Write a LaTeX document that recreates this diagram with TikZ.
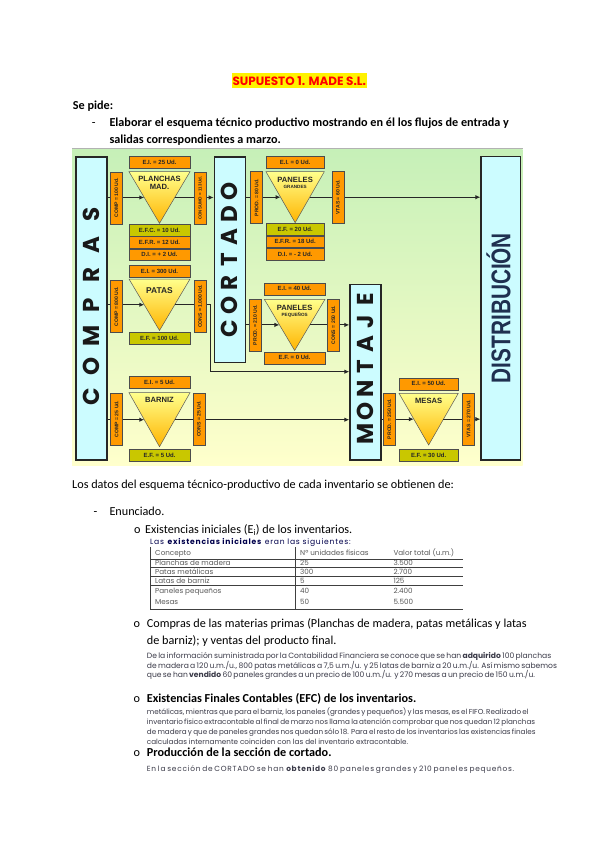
\documentclass[tikz,border=0pt]{standalone}
\usepackage{fontspec}
\setmainfont{Carlito}
\newfontfamily\gothic{Poppins}
\newfontfamily\gothicwide[LetterSpace=10]{Poppins}
\newfontfamily\diagfont{Liberation Sans}
\usetikzlibrary{arrows.meta, calc, positioning}

\definecolor{boxorange}{HTML}{FF9900}
\definecolor{boxolive}{HTML}{C9C700}
\definecolor{colcyan}{HTML}{CCFCFF}
\definecolor{bggreen}{HTML}{C6F0B8}
\definecolor{bgyellow}{HTML}{FFFFCC}
\definecolor{trilight}{HTML}{FFFF8C}
\definecolor{tridark}{HTML}{FFB400}
\definecolor{distnavy}{HTML}{1F3050}
\definecolor{smallgray}{HTML}{3A3A48}
\definecolor{titlered}{HTML}{FF0000}

% corner points of a stock triangle: name, left x, right x, top y, apex y
\newcommand{\stocktri}[5]{%
  \coordinate (#1-tl) at (#2,#4);
  \coordinate (#1-tr) at (#3,#4);
  \coordinate (#1-c) at ({(#2+#3)/2},#4);
  \coordinate (#1-ap) at ({(#2+#3)/2},#5);
  \coordinate (#1-in) at ($(#1-tl)!.5!(#1-ap)$);
  \coordinate (#1-out) at ($(#1-tr)!.5!(#1-ap)$);
}
\newcommand{\fitline}[2]{\makebox[#1][s]{#2}}

\begin{document}
\begin{tikzpicture}[x=1pt, y=-1pt,
    column/.style={draw=black!85, line width=1.3pt, fill=colcyan, inner sep=0pt},
    colletter/.style={font=\fontsize{23}{23}\gothic\bfseries, rotate=90, inner sep=0pt, text=black!90},
    stockbox/.style={draw=black!70, line width=0.5pt, fill=boxorange, minimum width=61, minimum height=11.8, inner sep=0pt, font=\fontsize{6}{6.5}\diagfont\bfseries, text=black!85},
    finbox/.style={stockbox, fill=boxolive},
    flowlab/.style={draw=black!70, line width=0.5pt, fill=boxorange, rotate=90, minimum width=52, minimum height=12, inner sep=0pt, font=\fontsize{5.1}{5.5}\diagfont\bfseries, text=black!85},
    trilab/.style={font=\fontsize{7.6}{8}\diagfont\bfseries, align=center, inner sep=0pt, text=black!85},
    tri/.style={top color=trilight, bottom color=tridark, draw=black!65, line width=0.5pt},
    flow/.style={-{Latex[length=5pt,width=4.5pt]}, line width=1.1pt, draw=black!85},
    body/.style={anchor=base west, inner sep=0pt, font=\fontsize{12.2}{14}\selectfont},
    bodybold/.style={body, font=\fontsize{12.2}{14}\selectfont\bfseries},
    smalltxt/.style={anchor=base west, inner sep=0pt, font=\fontsize{7.6}{8}\gothic, text=smallgray},
    tabtxt/.style={anchor=base west, inner sep=0pt, font=\fontsize{7.2}{8}\gothic, text=black!65},
    rule/.style={line width=0.9pt, draw=black!75}
]
\useasboundingbox (0,0) rectangle (599,848);
\fill[white] (0,0) rectangle (599,848);

% heading
\node[fill=yellow, text=titlered, font=\fontsize{12}{14}\gothic\bfseries, minimum height=15, inner xsep=0.5pt, inner ysep=0pt] (title) at (299.3,80.7) {SUPUESTO 1. MADE S.L.};
\node[bodybold] (sepide) at (72.7,110) {Se pide:};
\node[body] (dash1) at (91.7,126.7) {-};
\node[bodybold] (task1) at (109.3,126.7) {Elaborar el esquema técnico productivo mostrando en él los flujos de entrada y};
\node[bodybold] (task2) at (109.3,143.5) {salidas correspondientes a marzo.};

% ----- scheme -----
\shade[top color=bggreen, bottom color=bgyellow] (72,149) rectangle (522.5,465);
\draw[black!30, line width=0.8pt] (72,148.6) -- (522.5,148.6);

% sections
\node[column, minimum width=31, minimum height=303] (compras) at (91.5,308.5) {};
\node[column, minimum width=31, minimum height=205.7] (cortado) at (229.8,259.9) {};
\node[column, minimum width=31, minimum height=175.7] (montaje) at (365.5,372.2) {};
\node[column, minimum width=39.7, minimum height=303.3] (distrib) at (500.9,308.4) {};

\foreach \l [count=\i] in {C,O,M,P,R,A,S}
  \node[colletter] (compras-\i) at (91.5,{396.7-(\i-1)*30.3}) {\l};
\foreach \l [count=\i] in {C,O,R,T,A,D,O}
  \node[colletter] (cortado-\i) at (229.8,{328.3-(\i-1)*22.8}) {\l};
\foreach \l [count=\i] in {M,O,N,T,A,J,E}
  \node[colletter] (montaje-\i) at (365.5,{434-(\i-1)*22.5}) {\l};
\node[rotate=90, inner sep=0pt, text=distnavy] (distrib-name) at (498.6,308) {\resizebox{150pt}{24pt}{\diagfont\bfseries DISTRIBUCIÓN}};

% inventories
\stocktri{planchas}{129}{190}{171.7}{223.3}
\stocktri{patas}{129}{190}{279}{330.5}
\stocktri{barniz}{129}{190}{392.7}{446.7}
\stocktri{grandes}{266}{324.3}{171.7}{222.7}
\stocktri{pequenos}{264.3}{325}{299.3}{350.5}
\stocktri{mesas}{399}{458.3}{393.3}{445}
\foreach \t in {planchas,patas,barniz,grandes,pequenos,mesas}
  \shadedraw[tri] (\t-tl) -- (\t-tr) -- (\t-ap) -- cycle;

% flows
\coordinate (patas-turn) at (210.5,371.7);
\draw[flow] (compras.east |- planchas-in) -- (planchas-in);
\draw[flow] (planchas-out) -- (planchas-out -| cortado.west);
\draw[flow] (compras.east |- patas-in) -- (patas-in);
\draw[flow] (patas-out) -| (patas-turn) -- (patas-turn -| montaje.west);
\draw[flow] (compras.east |- barniz-in) -- (barniz-in);
\draw[flow] (barniz-out) -- (barniz-out -| montaje.west);
\draw[flow] (cortado.east |- grandes-in) -- (grandes-in);
\draw[flow] (grandes-out) -- (grandes-out -| distrib.west);
\draw[flow] (cortado.east |- pequenos-in) -- (pequenos-in);
\draw[flow] (pequenos-out) -- (pequenos-out -| montaje.west);
\draw[flow] (montaje.east |- mesas-in) -- (mesas-in);
\draw[flow] (mesas-out) -- (mesas-out -| distrib.west);

% names
\node[trilab, below=4pt of planchas-c] (planchas-name) {PLANCHAS\\MAD.};
\node[trilab, font=\fontsize{8.4}{8.4}\diagfont\bfseries, below=8.5pt of patas-c] (patas-name) {PATAS};
\node[trilab, below=4.4pt of barniz-c] (barniz-name) {BARNIZ};
\node[trilab, below=5pt of grandes-c] (grandes-name) {PANELES\\[-1.5pt]{\fontsize{4.6}{5}\selectfont GRANDES}};
\node[trilab, below=5.2pt of pequenos-c] (pequenos-name) {PANELES\\[-1.5pt]{\fontsize{4.6}{5}\selectfont PEQUEÑOS}};
\node[trilab, below=4.4pt of mesas-c] (mesas-name) {MESAS};

% stock boxes
\node[stockbox, above=3.4pt of planchas-c] (planchas-ei) {E.I. = 25 Ud.};
\node[finbox, below=0.7pt of planchas-ap] (planchas-efc) {E.F.C. = 10 Ud.};
\node[stockbox, below=0pt of planchas-efc] (planchas-efr) {E.F.R. = 12 Ud.};
\node[stockbox, below=0pt of planchas-efr] (planchas-di) {D.I. = + 2 Ud.};
\node[stockbox, above=1.7pt of patas-c] (patas-ei) {E.I. = 300 Ud.};
\node[finbox, below=1.8pt of patas-ap] (patas-ef) {E.F. = 100 Ud.};
\node[stockbox, above=4.4pt of barniz-c] (barniz-ei) {E.I. = 5 Ud.};
\node[finbox, below=2.6pt of barniz-ap] (barniz-ef) {E.F. = 5 Ud.};
\node[stockbox, minimum width=58.5, above=3.4pt of grandes-c] (grandes-ei) {E.I. = 0 Ud.};
\node[finbox, minimum width=58.5, below=0.6pt of grandes-ap] (grandes-ef) {E.F. = 20 Ud.};
\node[stockbox, minimum width=58.5, below=0pt of grandes-ef] (grandes-efr) {E.F.R. = 18 Ud.};
\node[stockbox, minimum width=58.5, below=0pt of grandes-efr] (grandes-di) {D.I. = - 2 Ud.};
\node[stockbox, minimum width=60.7, above=4.3pt of pequenos-c] (pequenos-ei) {E.I. = 40 Ud.};
\node[stockbox, minimum width=60.7, below=1.2pt of pequenos-ap] (pequenos-ef) {E.F. = 0 Ud.};
\node[stockbox, minimum width=59.3, above=3.3pt of mesas-c] (mesas-ei) {E.I. = 50 Ud.};
\node[finbox, minimum width=59.3, below=4.3pt of mesas-ap] (mesas-ef) {E.F. = 30 Ud.};

% flow labels
\node[flowlab] (planchas-comp) at (116.3,197.9) {COMP = 100 Ud.};
\node[flowlab, font=\fontsize{4.4}{5}\diagfont\bfseries] (planchas-cons) at (200,197.9) {CONSUMO = 113 Ud.};
\node[flowlab] (patas-comp) at (116.3,306.5) {COMP = 800 Ud.};
\node[flowlab] (patas-cons) at (200,306.5) {CONS = 1.000 Ud.};
\node[flowlab] (barniz-comp) at (116.5,418.9) {COMP = 25 Ud.};
\node[flowlab] (barniz-cons) at (198.9,418.9) {CONS = 25 Ud.};
\node[flowlab] (grandes-prod) at (256.5,197.5) {PROD. = 80 Ud.};
\node[flowlab] (grandes-vtas) at (337.8,197.5) {VTAS = 60 Ud.};
\node[flowlab] (pequenos-prod) at (255,325) {PROD. = 210 Ud.};
\node[flowlab] (pequenos-cons) at (333.2,325) {CONS = 250 Ud.};
\node[flowlab] (mesas-prod) at (389.3,419) {PROD. = 250 Ud.};
\node[flowlab] (mesas-vtas) at (468.5,419) {VTAS = 270 Ud.};

% ----- data sources -----
\node[body] (datos) at (72,488.5) {Los datos del esquema técnico-productivo de cada inventario se obtienen de:};
\node[body] (dash2) at (93.3,515) {-};
\node[body] (enunciado) at (109.3,515) {Enunciado.};

\node[body] (o1) at (134,533.3) {o};
\node[body] (ei-head) at (145,533.3) {Existencias iniciales (E\textsubscript{i}) de los inventarios.};
\node[smalltxt, font=\fontsize{7.6}{8}\gothicwide, text=black!70!blue] (ei-intro) at (150,544.5) {Las \textbf{existencias iniciales} eran las siguientes:};

% table
\foreach \y in {559,567.3,576,585,609.3}
  \draw[rule] (150,\y) -- (462.7,\y);
\draw[rule] (150,547) -- (150,609.3);
\draw[rule] (295.7,547) -- (295.7,609.3);
\node[tabtxt] (t-h1) at (155,555.3) {Concepto};
\node[tabtxt] (t-h2) at (300,555.3) {Nº unidades físicas};
\node[tabtxt] (t-h3) at (393.3,555.3) {Valor total (u.m.)};
\node[tabtxt] (t-11) at (155,565.5) {Planchas de madera};
\node[tabtxt] (t-12) at (300,565.5) {25};
\node[tabtxt] (t-13) at (393.3,565.5) {3.500};
\node[tabtxt] (t-21) at (155,574.2) {Patas metálicas};
\node[tabtxt] (t-22) at (300,574.2) {300};
\node[tabtxt] (t-23) at (393.3,574.2) {2.700};
\node[tabtxt] (t-31) at (155,583.2) {Latas de barniz};
\node[tabtxt] (t-32) at (300,583.2) {5};
\node[tabtxt] (t-33) at (393.3,583.2) {125};
\node[tabtxt] (t-41) at (155,593) {Paneles pequeños};
\node[tabtxt] (t-42) at (300,593) {40};
\node[tabtxt] (t-43) at (393.3,593) {2.400};
\node[tabtxt] (t-51) at (155,604.3) {Mesas};
\node[tabtxt] (t-52) at (300,604.3) {50};
\node[tabtxt] (t-53) at (393.3,604.3) {5.500};

\node[body] (o2) at (133.3,627.3) {o};
\node[body] (comp-head1) at (146.7,627.3) {Compras de las materias primas (Planchas de madera, patas metálicas y latas};
\node[body] (comp-head2) at (146.7,644.3) {de barniz); y ventas del producto final.};
\node[smalltxt] (comp-l1) at (146.7,658.3) {\fitline{380pt}{De la información suministrada por la Contabilidad Financiera se conoce que se han \textbf{adquirido} 100 planchas}};
\node[smalltxt] (comp-l2) at (146.7,668) {\fitline{380pt}{de madera a 120 u.m./u., 800 patas metálicas a 7,5 u.m./u. y 25 latas de barniz a 20 u.m./u. Así mismo sabemos}};
\node[smalltxt] (comp-l3) at (146.7,677.7) {\fitline{373pt}{que se han \textbf{vendido} 60 paneles grandes a un precio de 100 u.m./u. y 270 mesas a un precio de 150 u.m./u.}};

\node[body] (o3) at (133.3,702.3) {o};
\node[bodybold] (efc-head) at (146.7,702.3) {Existencias Finales Contables (EFC) de los inventarios.};
\node[smalltxt, font=\fontsize{7.2}{8}\gothic] (efc-l1) at (146.7,714.3) {\fitline{380pt}{metálicas, mientras que para el barniz, los paneles (grandes y pequeños) y las mesas, es el FIFO. Realizado el}};
\node[smalltxt, font=\fontsize{7.2}{8}\gothic] (efc-l2) at (146.7,724.2) {\fitline{380pt}{inventario físico extracontable al final de marzo nos llama la atención comprobar que nos quedan 12 planchas}};
\node[smalltxt, font=\fontsize{7.2}{8}\gothic] (efc-l3) at (146.7,734.1) {\fitline{380pt}{de madera y que de paneles grandes nos quedan sólo 18. Para el resto de los inventarios las existencias finales}};
\node[smalltxt, font=\fontsize{7.2}{8}\gothic] (efc-l4) at (146.7,744) {calculadas internamente coinciden con las del inventario extracontable.};

\node[body] (o4) at (133.3,756.5) {o};
\node[bodybold] (prod-head) at (146.7,756.5) {Producción de la sección de cortado.};
\node[smalltxt, font=\fontsize{7.4}{8}\gothicwide] (prod-l1) at (146.7,771.5) {\fitline{361pt}{En la sección de CORTADO se han \textbf{obtenido} 80 paneles grandes y 210 paneles pequeños.}};
\end{tikzpicture}
\end{document}
